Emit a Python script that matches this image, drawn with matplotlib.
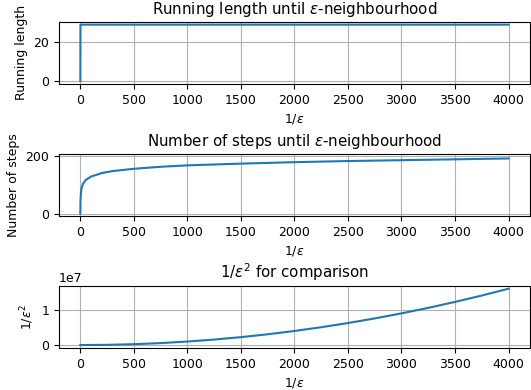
import matplotlib
matplotlib.use("Agg")
import matplotlib.pyplot as plt

plt.rcParams['font.size'] = 9

# Running length until eps-neighbourhood
x_run = [0, 1, 500, 1000, 2000, 3000, 4000]
run_len = [0, 28.8, 28.8, 28.8, 28.8, 28.8, 28.8]

# Number of steps until eps-neighbourhood
x_steps = [0, 1, 2, 5, 10, 25, 50, 100, 200, 300, 500, 750, 1000,
           1500, 2000, 2500, 3000, 3500, 4000]
steps = [0, 35, 50, 70, 86, 104, 117, 129, 141, 148, 156, 163, 168,
         174, 179, 183, 186, 189, 192]

# 1/eps^2 for comparison
x_sq = [0, 250, 500, 750, 1000, 1250, 1500, 1750, 2000, 2250, 2500,
        2750, 3000, 3250, 3500, 3750, 4000]
inv_sq = [0, 0.00625e7, 0.025e7, 0.05625e7, 0.1e7, 0.15625e7, 0.225e7,
          0.30625e7, 0.4e7, 0.50625e7, 0.625e7, 0.75625e7, 0.9e7,
          1.05625e7, 1.225e7, 1.40625e7, 1.6e7]

fig, axes = plt.subplots(3, 1, figsize=(5.31, 3.9), dpi=100)

axes[0].plot(x_run, run_len)
axes[0].set_title(r'Running length until $\epsilon$-neighbourhood')
axes[0].set_ylabel('Running length')
axes[0].set_yticks([0, 20])

axes[1].plot(x_steps, steps)
axes[1].set_title(r'Number of steps until $\epsilon$-neighbourhood')
axes[1].set_ylabel('Number of steps')
axes[1].set_yticks([0, 200])
axes[1].set_ylim(-8, 208)

axes[2].plot(x_sq, inv_sq)
axes[2].set_title(r'$1/\epsilon^2$ for comparison')
axes[2].set_ylabel(r'$1/\epsilon^2$')
axes[2].set_yticks([0, 1e7])

for ax in axes:
    ax.set_xlabel(r'$1/\epsilon$')
    ax.set_xticks(range(0, 4001, 500))
    ax.grid(True)

fig.subplots_adjust(left=0.111, right=0.998, top=0.944, bottom=0.108, hspace=1.13)
plt.savefig('out.png', dpi=100)
